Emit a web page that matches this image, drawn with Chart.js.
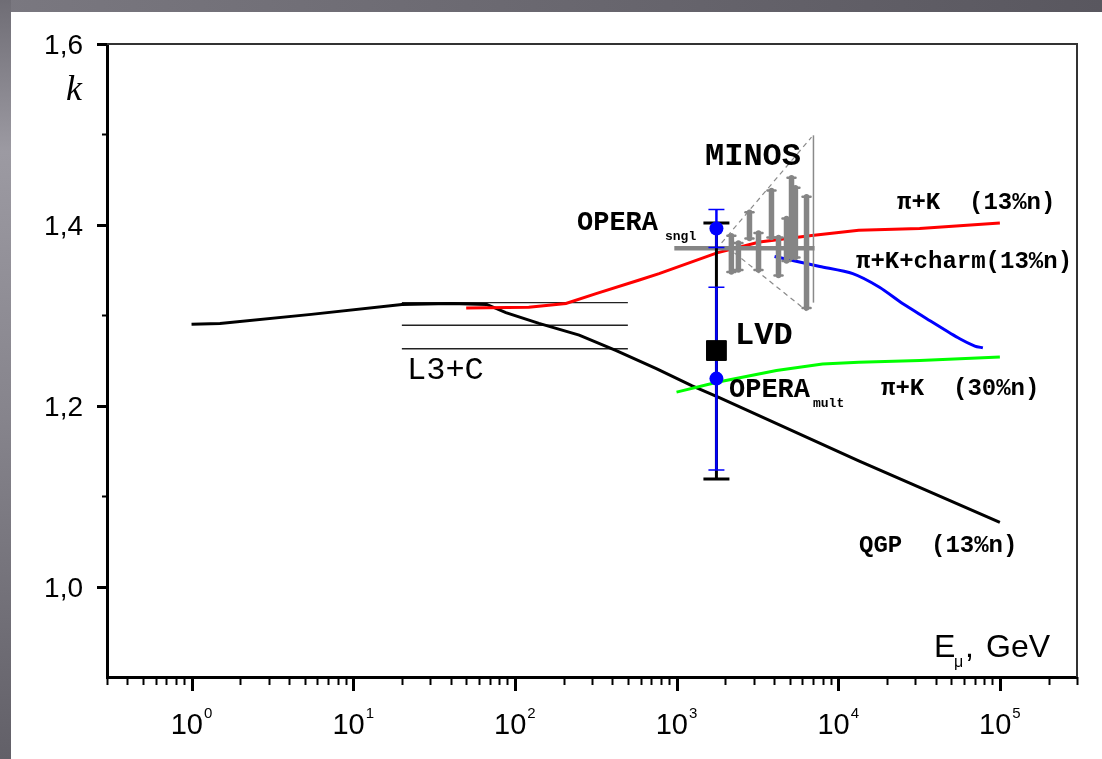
<!DOCTYPE html>
<html><head><meta charset="utf-8">
<script src="https://cdn.jsdelivr.net/npm/chart.js@4.4.0/dist/chart.umd.min.js"></script>
<style>html,body{margin:0;padding:0;background:#6a6870;overflow:hidden}canvas{display:block}</style>
</head><body>
<canvas id="c" width="1102" height="759" style="width:1102px;height:759px"></canvas>
<script>
// ---- data (E in GeV, k) ----
const qgpE = [1, 1.5, 5.5, 20, 40, 67, 88, 141, 250, 424, 750, 1250, 1840, 13400, 100000];
const qgpK = [1.290, 1.291, 1.301, 1.312, 1.313, 1.312, 1.303, 1.291, 1.278, 1.261, 1.241, 1.222, 1.209, 1.139, 1.071];
const pik13E = [50, 122, 207, 318, 589, 780, 1780, 3260, 6650, 13400, 31900, 100000];
const pik13K = [1.308, 1.309, 1.313, 1.324, 1.339, 1.346, 1.369, 1.381, 1.388, 1.394, 1.396, 1.402];
const charmE = [4040, 7700, 12300, 18000, 25000, 37000, 56500, 70000, 78500];
const charmK = [1.365, 1.354, 1.346, 1.331, 1.313, 1.294, 1.274, 1.266, 1.264];
const pik30E = [1000, 1780, 4150, 8000, 13400, 32000, 100000];
const pik30K = [1.215, 1.226, 1.239, 1.246, 1.248, 1.250, 1.254];
const l3cE = [20, 500];
const l3cK = [1.314, 1.289, 1.263];
const operaE = [1765, 1765];
const operaK = [1.396, 1.230];
const operaErr = [0.021, 0.101];
const lvdE = [1765];
const lvdK = [1.261];
const lvdLo = [1.119];
const lvdHi = [1.402];
const minosE = [2184, 2414, 2826, 3215, 3866, 4273, 4789, 5143, 5437, 6370];
const minosLo = [1.348, 1.350, 1.385, 1.350, 1.386, 1.344, 1.360, 1.364, 1.364, 1.308];
const minosHi = [1.388, 1.380, 1.414, 1.391, 1.438, 1.386, 1.407, 1.452, 1.441, 1.431];
const minosBandE = [969, 7140];
const minosBandK = 1.374;
const minosEdgeE = 7030;
const minosEdgeK = [1.314, 1.499];
const minosUpperE = [1900, 6840];
const minosUpperK = [1.380, 1.497];
const minosLowerE = [2280, 6370];
const minosLowerK = [1.369, 1.305];
const xTickExps = [0, 1, 2, 3, 4, 5];
const yTickVals = [1.0, 1.2, 1.4, 1.6];
const yTickLabels = ['1,0', '1,2', '1,4', '1,6'];
const yMinorVals = [1.1, 1.3, 1.5];

const pts = (xs, ys) => xs.map((x, i) => ({x: x, y: ys[i]}));
const lineDs = (label, data, color, width, dash, tension) => ({
  label, data, showLine: true, borderColor: color, backgroundColor: color,
  borderWidth: width, pointRadius: 0, borderDash: dash || [], tension: tension || 0, fill: false
});

const datasets = [
  {label: 'OPERA', data: pts(operaE, operaK), pointRadius: 7, pointBackgroundColor: '#0000ff', pointBorderColor: '#0000ff', borderWidth: 0, showLine: false},
  {label: 'LVD', data: pts(lvdE, lvdK), pointStyle: 'rect', pointRadius: 14, pointBackgroundColor: '#000', pointBorderColor: '#000', showLine: false},
  lineDs('MINOS band', pts(minosBandE, [minosBandK, minosBandK]), '#858585', 4.5),
  lineDs('MINOS edge', pts([minosEdgeE, minosEdgeE], minosEdgeK), '#8a8a8a', 1.5),
  lineDs('MINOS upper', pts(minosUpperE, minosUpperK), '#8a8a8a', 1.2, [5, 4]),
  lineDs('MINOS lower', pts(minosLowerE, minosLowerK), '#8a8a8a', 1.2, [5, 4]),
  lineDs('pi+K 13%n', pts(pik13E, pik13K), '#ff0000', 3),
  lineDs('pi+K+charm', pts(charmE, charmK), '#0000ff', 3, null, 0.25),
  lineDs('pi+K 30%n', pts(pik30E, pik30K), '#00ff00', 3),
  lineDs('QGP', pts(qgpE, qgpK), '#000000', 3),
  lineDs('L3+C a', pts(l3cE, [l3cK[0], l3cK[0]]), '#222', 1.3),
  lineDs('L3+C b', pts(l3cE, [l3cK[1], l3cK[1]]), '#222', 1.3),
  lineDs('L3+C c', pts(l3cE, [l3cK[2], l3cK[2]]), '#222', 1.3)
];

function txt(ctx, s, x, y, font, align) {
  ctx.font = font; ctx.textAlign = align || 'left'; ctx.textBaseline = 'alphabetic';
  ctx.fillStyle = '#000'; ctx.fillText(s, x, y);
}

const decor = {
  id: 'decor',
  beforeDraw(chart) {
    const ctx = chart.ctx, W = chart.width, H = chart.height;
    ctx.save();
    const gl = ctx.createLinearGradient(0, 0, 0, H);
    gl.addColorStop(0, '#6f6d75'); gl.addColorStop(0.2, '#9c9aa2');
    gl.addColorStop(0.55, '#86848c'); gl.addColorStop(1, '#626068');
    ctx.fillStyle = gl; ctx.fillRect(0, 0, W, H);
    const gt = ctx.createLinearGradient(0, 0, W, 0);
    gt.addColorStop(0, '#7a7880'); gt.addColorStop(1, '#59575f');
    ctx.fillStyle = gt; ctx.fillRect(11, 0, W - 11, 12);
    ctx.fillStyle = '#ffffff'; ctx.fillRect(11, 12, W - 11, H - 12);
    ctx.restore();
  },
  afterDatasetDraw(chart, args) {
    if (args.index !== 2) return;
    const ctx = chart.ctx, xs = chart.scales.x, ys = chart.scales.y;
    ctx.save();
    // MINOS error bars
    ctx.strokeStyle = '#858585'; ctx.lineCap = 'round';
    minosE.forEach((e, i) => {
      const px = xs.getPixelForValue(e);
      ctx.lineWidth = 5.5;
      ctx.beginPath(); ctx.moveTo(px, ys.getPixelForValue(minosLo[i])); ctx.lineTo(px, ys.getPixelForValue(minosHi[i])); ctx.stroke();
      ctx.lineWidth = 2.5;
      [minosLo[i], minosHi[i]].forEach(v => { const py = ys.getPixelForValue(v); ctx.beginPath(); ctx.moveTo(px - 4, py); ctx.lineTo(px + 4, py); ctx.stroke(); });
    });
    ctx.lineCap = 'butt';
    // LVD error bar
    lvdE.forEach((e, i) => {
      const px = xs.getPixelForValue(e);
      const y1 = ys.getPixelForValue(lvdLo[i]), y2 = ys.getPixelForValue(lvdHi[i]);
      ctx.strokeStyle = '#000'; ctx.lineWidth = 3;
      ctx.beginPath(); ctx.moveTo(px, y1); ctx.lineTo(px, y2); ctx.stroke();
      ctx.beginPath(); ctx.moveTo(px - 13, y1); ctx.lineTo(px + 13, y1); ctx.moveTo(px - 13, y2); ctx.lineTo(px + 13, y2); ctx.stroke();
    });
    // OPERA error bars
    ctx.strokeStyle = '#0000ff';
    operaE.forEach((e, i) => {
      const px = xs.getPixelForValue(e);
      const y1 = ys.getPixelForValue(operaK[i] - operaErr[i]), y2 = ys.getPixelForValue(operaK[i] + operaErr[i]);
      ctx.lineWidth = 2.5;
      ctx.beginPath(); ctx.moveTo(px, y1); ctx.lineTo(px, y2); ctx.stroke();
      ctx.lineWidth = 1.5;
      ctx.beginPath(); ctx.moveTo(px - 8, y1); ctx.lineTo(px + 8, y1); ctx.moveTo(px - 8, y2); ctx.lineTo(px + 8, y2); ctx.stroke();
    });
    ctx.restore();
  },
  afterDraw(chart) {
    const ctx = chart.ctx, xs = chart.scales.x, ys = chart.scales.y, ca = chart.chartArea;
    ctx.save();
    // frame top & right
    ctx.strokeStyle = '#333'; ctx.lineWidth = 2;
    ctx.beginPath(); ctx.moveTo(ca.left, ca.top); ctx.lineTo(ca.right, ca.top); ctx.lineTo(ca.right, ca.bottom); ctx.stroke();
    // x ticks
    ctx.strokeStyle = '#000';
    for (let n = -1; n <= 5; n++) {
      for (let m = 1; m <= 9; m++) {
        const v = m * Math.pow(10, n);
        if (v < 0.299 || v > 3.01e5) continue;
        const px = Math.round(xs.getPixelForValue(v)) + 0.5;
        ctx.lineWidth = m === 1 ? 3 : 2;
        ctx.beginPath(); ctx.moveTo(px, ca.bottom); ctx.lineTo(px, ca.bottom + (m === 1 ? 14 : 8)); ctx.stroke();
      }
    }
    xTickExps.forEach(p => {
      const px = xs.getPixelForValue(Math.pow(10, p));
      ctx.font = '29px "Liberation Sans", Arial, sans-serif';
      const w1 = ctx.measureText('10').width;
      ctx.font = '15px "Liberation Sans", Arial, sans-serif';
      const w2 = ctx.measureText(String(p)).width;
      const left = px - (w1 + w2 + 1) / 2;
      txt(ctx, '10', left, 734, '29px "Liberation Sans", Arial, sans-serif');
      txt(ctx, String(p), left + w1 + 1, 718, '15px "Liberation Sans", Arial, sans-serif');
    });
    // y ticks
    yTickVals.forEach((v, i) => {
      const py = Math.round(ys.getPixelForValue(v)) + 0.5;
      ctx.lineWidth = 3;
      ctx.beginPath(); ctx.moveTo(ca.left, py); ctx.lineTo(ca.left - 10, py); ctx.stroke();
      txt(ctx, yTickLabels[i], 83, py + 9, '28px "Liberation Sans", Arial, sans-serif', 'right');
    });
    yMinorVals.forEach(v => {
      const py = Math.round(ys.getPixelForValue(v)) + 0.5;
      ctx.lineWidth = 2;
      ctx.beginPath(); ctx.moveTo(ca.left, py); ctx.lineTo(ca.left - 5, py); ctx.stroke();
    });
    // axis titles
    txt(ctx, 'k', 82, 100, 'italic 36px "Liberation Serif", "Times New Roman", serif', 'right');
    const sans = '"Liberation Sans", Arial, sans-serif';
    txt(ctx, 'E', 934, 657, '32px ' + sans);
    txt(ctx, 'μ', 954, 667, '16px ' + sans);
    txt(ctx, ',', 965, 657, '32px ' + sans);
    txt(ctx, 'GeV', 986, 657, '32px ' + sans);
    // annotations
    const mono = '"Liberation Mono", "Courier New", monospace';
    txt(ctx, 'MINOS', 753, 165, 'bold 32px ' + mono, 'center');
    txt(ctx, 'OPERA', 577, 230, 'bold 27px ' + mono);
    txt(ctx, 'sngl', 665, 240, 'bold 13px ' + mono);
    txt(ctx, 'OPERA', 729, 397, 'bold 27px ' + mono);
    txt(ctx, 'mult', 813, 407, 'bold 13px ' + mono);
    txt(ctx, 'LVD', 735, 344, 'bold 32px ' + mono);
    txt(ctx, 'L3+C', 407, 379, '32px ' + mono);
    txt(ctx, 'π+K  (13%n)', 897, 209, 'bold 24px ' + mono);
    txt(ctx, 'π+K+charm(13%n)', 856, 268, 'bold 24px ' + mono);
    txt(ctx, 'π+K  (30%n)', 881, 395, 'bold 24px ' + mono);
    txt(ctx, 'QGP  (13%n)', 859, 552, 'bold 24px ' + mono);
    ctx.restore();
  }
};

new Chart(document.getElementById('c'), {
  type: 'scatter',
  data: {datasets},
  options: {
    responsive: false, animation: false, devicePixelRatio: 1, events: [],
    layout: {padding: {left: 0, top: 44, right: 25, bottom: 0}},
    plugins: {legend: {display: false}, tooltip: {enabled: false}},
    scales: {
      x: {type: 'logarithmic', min: 0.3, max: 3e5,
          grid: {display: false}, ticks: {display: false},
          border: {display: true, color: '#000', width: 3},
          afterFit(s) { s.height = 82; }},
      y: {type: 'linear', min: 0.9, max: 1.6,
          grid: {display: false}, ticks: {display: false},
          border: {display: true, color: '#000', width: 3},
          afterFit(s) { s.width = 107; }}
    }
  },
  plugins: [decor]
});
</script>
</body></html>
